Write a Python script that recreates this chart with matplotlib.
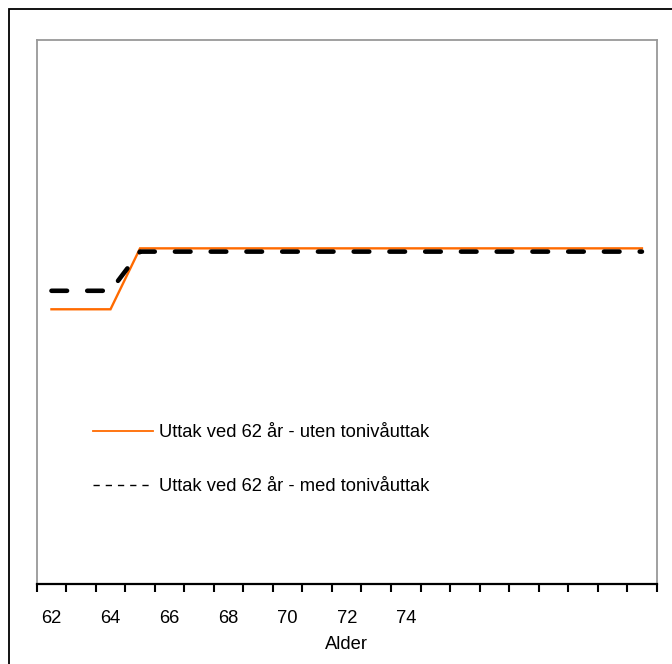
import matplotlib
matplotlib.use("Agg")
import matplotlib.pyplot as plt
from matplotlib.lines import Line2D
from matplotlib.patches import Rectangle

plt.rcParams['font.family'] = ['Liberation Sans', 'DejaVu Sans']

# Data
ages = list(range(62, 83))
uten = [50.5, 50.5, 50.5] + [61.7] * 18
med = [53.9, 53.9, 53.9] + [61.1] * 18
label_ages = [62, 64, 66, 68, 70, 72, 74]
series_names = ["Uttak ved 62 år - uten tonivåuttak",
                "Uttak ved 62 år - med tonivåuttak"]
xlabel = "Alder"

W, H = 672, 664
FS = 13.2
fig = plt.figure(figsize=(W / 100, H / 100), dpi=100)

ax = fig.add_axes([36.7 / W, 1 - 584 / H, (656.7 - 36.7) / W, (584 - 40) / H])

ax.plot(ages, uten, color='#FF6A00', lw=1.7, solid_joinstyle='miter')
ax.plot(ages, med, color='black', lw=3.3, linestyle=(0, (3.4, 4.4)),
        dash_capstyle='round')

ax.set_xlim(ages[0] - 0.5, ages[-1] + 0.5)
ax.set_ylim(0, 100)
ax.set_yticks([])

bounds = [a - 0.5 for a in ages] + [ages[-1] + 0.5]
ax.set_xticks(bounds)
ax.set_xticklabels([''] * len(bounds))
ax.tick_params(axis='x', which='major', direction='out', length=6, width=1.5, color='black')
ax.set_xticks(label_ages, minor=True)
ax.set_xticklabels([str(a) for a in label_ages], minor=True)
ax.tick_params(axis='x', which='minor', length=0, pad=19, labelsize=FS)
ax.set_xlabel(xlabel, fontsize=FS, labelpad=6.5)

for s in ['top', 'left', 'right']:
    ax.spines[s].set_color('#999999')
    ax.spines[s].set_linewidth(1.3)
ax.spines['bottom'].set_color('black')
ax.spines['bottom'].set_linewidth(1.6)

handles = [Line2D([], [], color='#FF6A00', lw=1.3),
           Line2D([], [], color='black', lw=1.0, linestyle=(0, (4.5, 4.3)))]
leg = ax.legend(handles, series_names, loc='upper left',
                bbox_to_anchor=(93 / W, 1 - 424 / H), bbox_transform=fig.transFigure,
                frameon=False, fontsize=FS, borderpad=0, borderaxespad=0,
                handlelength=3.25, handletextpad=0.36, labelspacing=2.02)

# outer frame
fig.patches.append(Rectangle((9 / W, -0.1), 1.2, 1 - 9 / H + 0.1, transform=fig.transFigure,
                             fill=False, edgecolor='black', lw=1.3))

fig.savefig('out.png', dpi=100)
